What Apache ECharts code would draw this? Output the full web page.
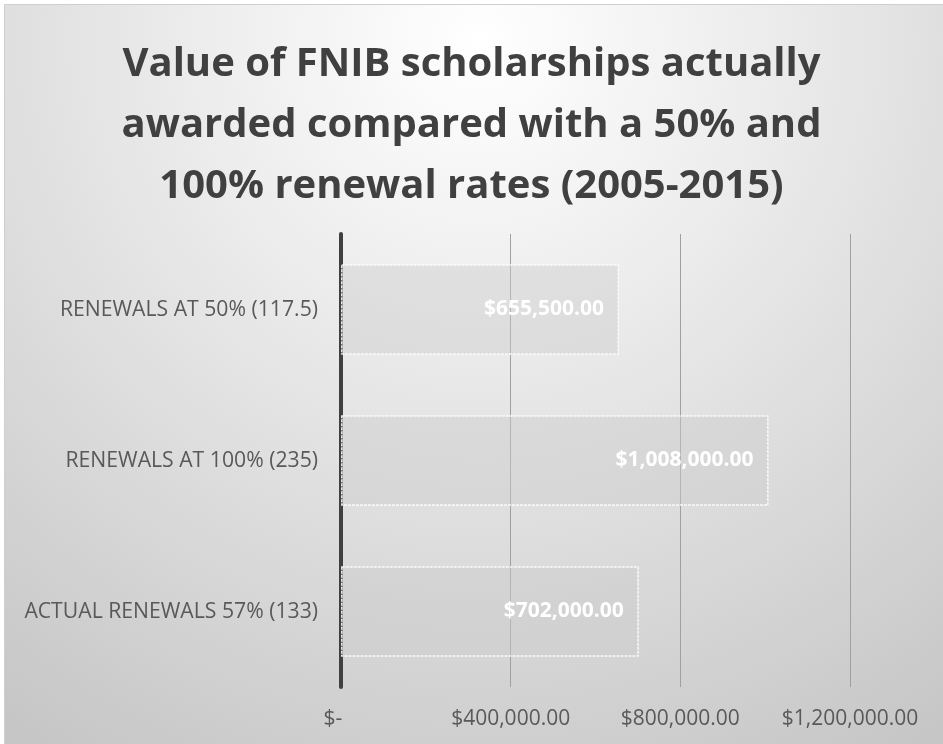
<!DOCTYPE html>
<html>
<head>
<meta charset="utf-8">
<script src="https://cdn.jsdelivr.net/npm/echarts@6/dist/echarts.min.js"></script>
<style>
html,body{margin:0;padding:0;background:#fff;}
#chart{width:943px;height:744px;}
</style>
</head>
<body>
<div id="chart"></div>
<script>
const titleText = 'Value of FNIB scholarships actually\nawarded compared with a 50% and\n100% renewal rates (2005-2015)';
const categories = ['ACTUAL RENEWALS 57% (133)', 'RENEWALS AT 100% (235)', 'RENEWALS AT 50% (117.5)'];
const values = [702000, 1008000, 655500];
const xTicks = [0, 400000, 800000, 1200000];

function money(v) {
  if (v === 0) return '$-';
  return '$' + v.toLocaleString('en-US', {minimumFractionDigits: 2, maximumFractionDigits: 2});
}

const chart = echarts.init(document.getElementById('chart'), null, {renderer: 'canvas'});
const font = '"Open Sans", "Liberation Sans", sans-serif';
chart.setOption({
  animation: false,
  backgroundColor: '#ffffff',
  graphic: [
    {
      type: 'rect', z: -10, silent: true,
      shape: {x: 4.5, y: 4.5, width: 950, height: 750},
      style: {
        fill: {
          type: 'radial', x: 0.5, y: 0.05, r: 1.1,
          colorStops: [
            {offset: 0, color: '#ffffff'},
            {offset: 0.35, color: '#ececec'},
            {offset: 1, color: '#c6c6c6'}
          ]
        },
        stroke: '#cfcfcf', lineWidth: 1
      }
    }
  ],
  title: {
    text: titleText,
    left: 'center',
    top: 29,
    textStyle: {
      fontFamily: font, fontWeight: 'bold', fontSize: 40, lineHeight: 61, color: '#404040'
    }
  },
  grid: {left: 341, right: 93, top: 234, bottom: 57, containLabel: false},
  xAxis: {
    type: 'value', min: 0, max: xTicks[xTicks.length - 1], interval: 400000,
    axisLine: {show: false},
    axisTick: {show: false},
    splitLine: {show: true, lineStyle: {color: '#a0a0a0', width: 1}},
    axisLabel: {
      margin: 22, fontFamily: font, fontSize: 21, color: '#595959',
      formatter: function (v) { return v === 0 ? '$-   ' : money(v); }
    }
  },
  yAxis: {
    type: 'category', data: categories,
    axisLine: {show: true, lineStyle: {color: '#404040', width: 4}},
    axisTick: {show: false},
    axisLabel: {margin: 23, fontFamily: font, fontSize: 21.2, color: '#595959'}
  },
  series: [{
    type: 'bar',
    data: values,
    barWidth: '60%',
    itemStyle: {
      color: 'rgba(205,205,205,0.45)',
      borderColor: 'rgba(255,255,255,0.85)',
      borderWidth: 1.5,
      borderType: [3, 1]
    },
    label: {
      show: true, position: 'insideRight', distance: 15,
      fontFamily: font, fontWeight: 'bold', fontSize: 21, color: '#ffffff',
      formatter: function (p) { return money(p.value); }
    }
  }]
});
</script>
</body>
</html>
